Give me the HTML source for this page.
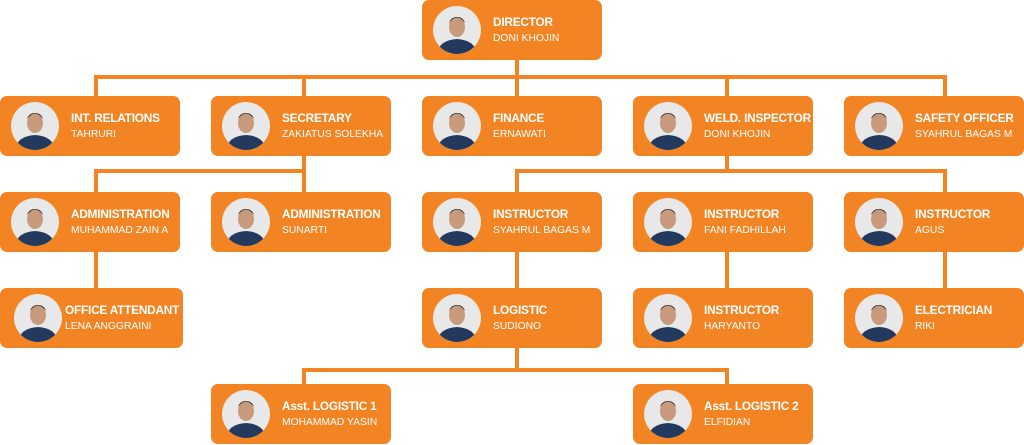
<!DOCTYPE html>
<html><head><style>
body{margin:0;width:1024px;height:445px;background:#fff;position:relative;overflow:hidden;font-family:"Liberation Sans",sans-serif}
.b{position:absolute;width:180px;height:60px;background:#f28423;border-radius:7px;color:#fff}
.b svg{position:absolute;left:11px;top:6px}
.t{position:absolute;left:71px;top:15px;font-weight:bold;font-size:11.8px;letter-spacing:-0.2px;white-space:nowrap}
.s{position:absolute;left:71px;top:33px;font-size:10.3px;white-space:nowrap}
.l{position:absolute;background:#f28423}
</style></head><body>
<div class="l" style="left:515px;top:58px;width:4px;height:40px"></div>
<div class="l" style="left:94px;top:75px;width:853px;height:4px"></div>
<div class="l" style="left:94px;top:75px;width:4px;height:23px"></div>
<div class="l" style="left:302px;top:75px;width:4px;height:23px"></div>
<div class="l" style="left:725px;top:75px;width:4px;height:23px"></div>
<div class="l" style="left:943px;top:75px;width:4px;height:23px"></div>
<div class="l" style="left:302px;top:154px;width:4px;height:40px"></div>
<div class="l" style="left:94px;top:169px;width:212px;height:4px"></div>
<div class="l" style="left:94px;top:169px;width:4px;height:25px"></div>
<div class="l" style="left:725px;top:154px;width:4px;height:19px"></div>
<div class="l" style="left:515px;top:169px;width:432px;height:4px"></div>
<div class="l" style="left:515px;top:169px;width:4px;height:25px"></div>
<div class="l" style="left:943px;top:169px;width:4px;height:25px"></div>
<div class="l" style="left:94px;top:250px;width:4px;height:40px"></div>
<div class="l" style="left:515px;top:250px;width:4px;height:40px"></div>
<div class="l" style="left:725px;top:250px;width:4px;height:40px"></div>
<div class="l" style="left:943px;top:250px;width:4px;height:40px"></div>
<div class="l" style="left:515px;top:346px;width:4px;height:26px"></div>
<div class="l" style="left:302px;top:368px;width:427px;height:4px"></div>
<div class="l" style="left:302px;top:368px;width:4px;height:18px"></div>
<div class="l" style="left:725px;top:368px;width:4px;height:18px"></div>

<svg width="0" height="0" style="position:absolute"><defs>
<symbol id="av" viewBox="0 0 48 48"><clipPath id="c"><circle cx="24" cy="24" r="24"/></clipPath><g clip-path="url(#c)"><rect width="48" height="48" fill="#e8e8e8"/><path d="M4 48 Q6 34 24 33 Q42 34 44 48Z" fill="#23395d"/><ellipse cx="24" cy="21" rx="8" ry="10" fill="#c89a7c"/><path d="M16 17 Q24 6 32 17 Q30 11 24 11 Q18 11 16 17Z" fill="#222"/></g></symbol>
</defs></svg>

<div class="b" style="left:422px;top:0"><svg width="48" height="48"><use href="#av"/></svg><div class="t">DIRECTOR</div><div class="s">DONI KHOJIN</div></div>

<div class="b" style="left:0;top:96px"><svg width="48" height="48"><use href="#av"/></svg><div class="t">INT. RELATIONS</div><div class="s">TAHRURI</div></div>
<div class="b" style="left:211px;top:96px"><svg width="48" height="48"><use href="#av"/></svg><div class="t">SECRETARY</div><div class="s">ZAKIATUS SOLEKHA</div></div>
<div class="b" style="left:422px;top:96px"><svg width="48" height="48"><use href="#av"/></svg><div class="t">FINANCE</div><div class="s">ERNAWATI</div></div>
<div class="b" style="left:633px;top:96px"><svg width="48" height="48"><use href="#av"/></svg><div class="t">WELD. INSPECTOR</div><div class="s">DONI KHOJIN</div></div>
<div class="b" style="left:844px;top:96px"><svg width="48" height="48"><use href="#av"/></svg><div class="t">SAFETY OFFICER</div><div class="s">SYAHRUL BAGAS M</div></div>

<div class="b" style="left:0;top:192px"><svg width="48" height="48"><use href="#av"/></svg><div class="t">ADMINISTRATION</div><div class="s">MUHAMMAD ZAIN A</div></div>
<div class="b" style="left:211px;top:192px"><svg width="48" height="48"><use href="#av"/></svg><div class="t">ADMINISTRATION</div><div class="s">SUNARTI</div></div>
<div class="b" style="left:422px;top:192px"><svg width="48" height="48"><use href="#av"/></svg><div class="t">INSTRUCTOR</div><div class="s">SYAHRUL BAGAS M</div></div>
<div class="b" style="left:633px;top:192px"><svg width="48" height="48"><use href="#av"/></svg><div class="t">INSTRUCTOR</div><div class="s">FANI FADHILLAH</div></div>
<div class="b" style="left:844px;top:192px"><svg width="48" height="48"><use href="#av"/></svg><div class="t">INSTRUCTOR</div><div class="s">AGUS</div></div>

<div class="b" style="left:0;top:288px;width:183px"><svg width="48" height="48" style="left:14px"><use href="#av"/></svg><div class="t" style="left:65px">OFFICE ATTENDANT</div><div class="s" style="left:65px">LENA ANGGRAINI</div></div>
<div class="b" style="left:422px;top:288px"><svg width="48" height="48"><use href="#av"/></svg><div class="t">LOGISTIC</div><div class="s">SUDIONO</div></div>
<div class="b" style="left:633px;top:288px"><svg width="48" height="48"><use href="#av"/></svg><div class="t">INSTRUCTOR</div><div class="s">HARYANTO</div></div>
<div class="b" style="left:844px;top:288px"><svg width="48" height="48"><use href="#av"/></svg><div class="t">ELECTRICIAN</div><div class="s">RIKI</div></div>

<div class="b" style="left:211px;top:384px"><svg width="48" height="48"><use href="#av"/></svg><div class="t">Asst. LOGISTIC 1</div><div class="s">MOHAMMAD YASIN</div></div>
<div class="b" style="left:633px;top:384px"><svg width="48" height="48"><use href="#av"/></svg><div class="t">Asst. LOGISTIC 2</div><div class="s">ELFIDIAN</div></div>
</body></html>
